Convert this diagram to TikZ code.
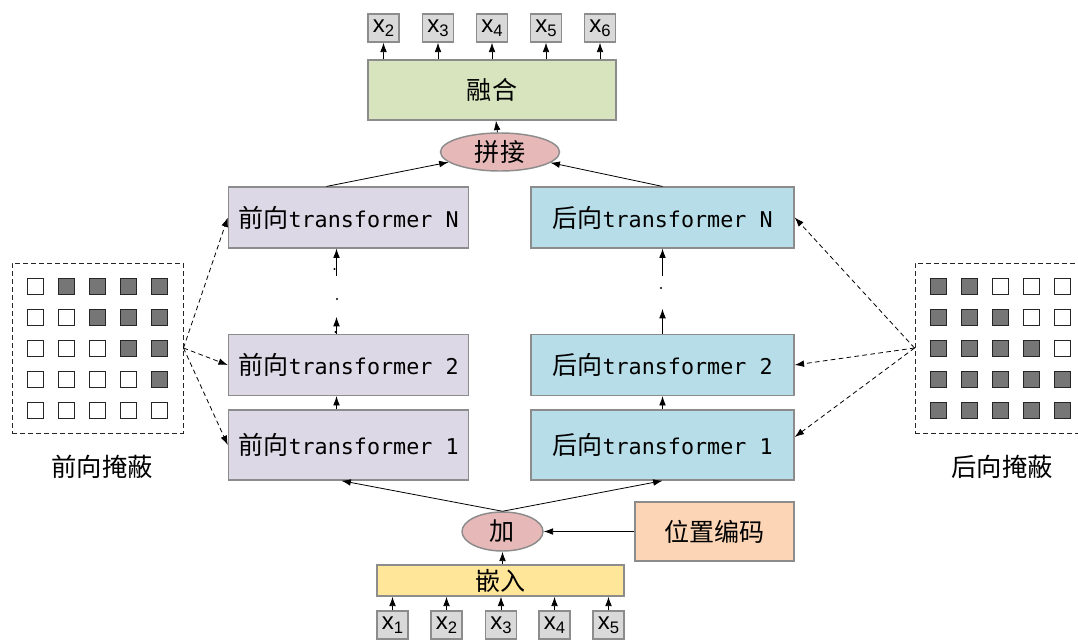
\documentclass[tikz,border=0pt]{standalone}
\usepackage{fontspec}
\setmainfont{Liberation Sans}
\newfontfamily\cjk{Noto Sans CJK SC}
\newfontfamily\mono{DejaVu Sans Mono}
\usetikzlibrary{arrows.meta,calc,shapes.geometric}

\definecolor{edgegray}{HTML}{8C8C8C}
\definecolor{tokfill}{HTML}{D9D9D9}
\definecolor{fusefill}{HTML}{D7E4BD}
\definecolor{joinfill}{HTML}{E6B9B8}
\definecolor{fwdfill}{HTML}{DDD8E6}
\definecolor{bwdfill}{HTML}{B7DEE8}
\definecolor{posfill}{HTML}{FBD5B5}
\definecolor{embfill}{HTML}{FFE699}
\definecolor{maskdark}{HTML}{767676}

% token label: x with a lowered index
\newcommand{\tokx}[1]{{\fontsize{18}{18}\selectfont x}\raisebox{-3pt}{\fontsize{12.5}{12.5}\selectfont #1}}
% transformer layer label
\newcommand{\tflabel}[2]{#1{\mono\fontsize{16.3}{18}\selectfont transformer #2}}

\tikzset{
  box/.style={draw=edgegray, line width=1.1pt, inner sep=0pt,
    font=\cjk\fontsize{18.8}{20}\selectfont, text=black},
  tok/.style={box, fill=tokfill, minimum width=23.25pt, minimum height=21pt,
    font=\fontsize{18}{18}\selectfont},
  layerbox/.style={box, minimum height=45.5pt},
  fwd/.style={layerbox, fill=fwdfill, minimum width=180pt},
  bwd/.style={layerbox, fill=bwdfill, minimum width=197.25pt},
  oval/.style={box, ellipse, fill=joinfill},
  maskframe/.style={draw=black!85, line width=0.7pt, dash pattern=on 3.5pt off 2.5pt,
    minimum width=128.25pt, minimum height=127.5pt, inner sep=0pt},
  arr/.style={-{Latex[length=7pt,width=5pt]}, line width=0.6pt, black},
  darr/.style={arr, dash pattern=on 3.5pt off 2.5pt},
  cell/.style={draw=black!85, line width=0.7pt},
}

\begin{document}
\begin{tikzpicture}[x=0.75pt,y=-0.75pt]
\useasboundingbox (0,0) rectangle (1078,639);

% ---------- output tokens and fusion ----------
\node[box, fill=fusefill, minimum width=186pt, minimum height=45pt] (fuse) at (492,90) {融合};
\foreach \n/\xx in {2/383.5,3/438,4/492,5/546,6/600}{
  \node[tok] (out\n) at (\xx,28) {\tokx{\n}};
  \draw[arr] (fuse.north -| out\n) -- (out\n);
}

\node[oval, minimum width=89.25pt, minimum height=28.5pt] (cat) at (500,152) {拼接};
\draw[arr] (cat) -- (fuse);

% ---------- forward stack ----------
\node[fwd] (fN) at (348.5,217.5) {\tflabel{前向}{N}};
\node[fwd] (f2) at (348.5,365) {\tflabel{前向}{2}};
\node[fwd, minimum height=52.5pt] (f1) at (348.5,445) {\tflabel{前向}{1}};

\draw[arr] ($(f1.north)+(-12,0)$) -- ($(f2.south)+(-12,0)$);
\coordinate (fmidlo) at ($(f2.north)+(-12,-17)$);
\coordinate (fmidhi) at ($(fN.south)+(-12,27)$);
\draw[arr] ($(f2.north)+(-12,0)$) -- (fmidlo);
\draw[arr] (fmidhi) -- ($(fN.south)+(-12,0)$);
\fill (334.5,269) circle (0.9pt);
\fill (337,299) circle (0.9pt);
\fill (335.5,332) circle (0.9pt);

% ---------- backward stack ----------
\node[bwd] (bN) at (662.5,217.5) {\tflabel{后向}{N}};
\node[bwd] (b2) at (662.5,365) {\tflabel{后向}{2}};
\node[bwd, minimum height=52.5pt] (b1) at (662.5,445) {\tflabel{后向}{1}};

\draw[arr] (b1) -- (b2);
\coordinate (bmidlo) at ($(b2.north)+(0,-25)$);
\coordinate (bmidhi) at ($(bN.south)+(0,27)$);
\draw[arr] (b2.north) -- (bmidlo);
\draw[arr] (bmidhi) -- (bN.south);
\fill (661,288) circle (0.9pt);

% ---------- concatenation ----------
\coordinate (fNtop) at ($(fN.north)+(-22,0)$);
\draw[arr] (fNtop) -- (cat);
\draw[arr] (bN.north) -- (cat);

% ---------- input side ----------
\node[oval, minimum width=60.75pt, minimum height=29.25pt] (add) at (502.5,531.5) {加};
\node[box, fill=posfill, minimum width=119.25pt, minimum height=44.25pt] (pos) at (714.5,531.5) {位置编码};
\node[box, fill=embfill, minimum width=185.25pt, minimum height=23.25pt] (emb) at (500.5,580.5) {嵌入};

\draw[arr] (pos) -- (add);
\draw[arr] (emb.north -| add) -- (add);
\draw[arr] (add.north) -- ($(f1.south)+(-7,0)$);
\draw[arr] (add.north) -- (b1.south);

\foreach \n/\xx in {1/392.5,2/446.5,3/501,4/554.5,5/608.5}{
  \node[tok] (in\n) at (\xx,625) {\tokx{\n}};
  \draw[arr] (in\n) -- (emb.south -| in\n);
}

% ---------- masks ----------
\node[maskframe] (lmask) at (97.5,348) {};
\node[maskframe] (rmask) at (1000.5,348) {};

% forward mask: cells above the diagonal are blocked
\foreach \r in {0,...,4}{
  \foreach \c in {0,...,4}{
    \pgfmathtruncatemacro{\blk}{\c>\r ? 1 : 0}
    \ifnum\blk=1 \def\cfill{maskdark}\else\def\cfill{white}\fi
    \filldraw[cell, fill=\cfill] (35.5+31*\c-8, 286+31*\r-8) rectangle ++(16,16);
  }
}
% backward mask
\foreach \r in {0,...,4}{
  \foreach \c in {0,...,4}{
    \pgfmathtruncatemacro{\blk}{\c<=\r+1 ? 1 : 0}
    \ifnum\blk=1 \def\cfill{maskdark}\else\def\cfill{white}\fi
    \filldraw[cell, fill=\cfill] (938+31*\c-8, 286+31*\r-8) rectangle ++(16,16);
  }
}

\node[font=\cjk\fontsize{19}{20}\selectfont] (lmlabel) at (102,467) {前向掩蔽};
\node[font=\cjk\fontsize{19}{20}\selectfont] (rmlabel) at (1002,467) {后向掩蔽};

\draw[darr] (lmask.east) -- (fN.west);
\draw[darr] (lmask.east) -- (f2.west);
\draw[darr] (lmask.east) -- (f1.west);
\draw[darr] (rmask.west) -- (bN.east);
\draw[darr] (rmask.west) -- (b2.east);
\draw[darr] (rmask.west) -- ($(b1.east)+(0,-8)$);
\end{tikzpicture}
\end{document}
